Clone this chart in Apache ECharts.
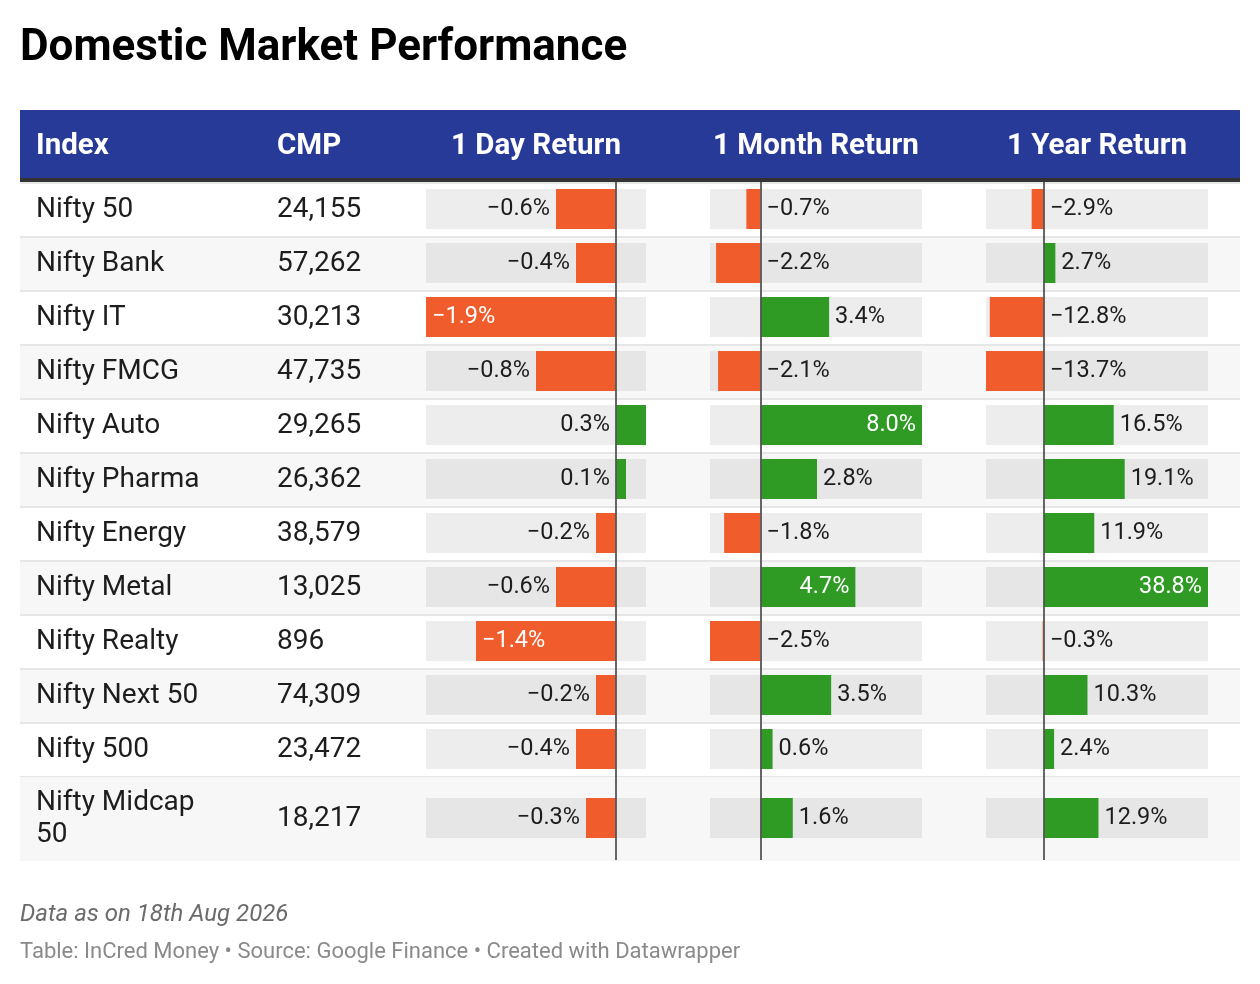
<!DOCTYPE html>
<html>
<head>
<meta charset="utf-8">
<script src="https://cdn.jsdelivr.net/npm/echarts@6/dist/echarts.min.js"></script>
<style>
html, body { margin: 0; padding: 0; background: #fff; }
#chart { width: 1260px; height: 984px; }
</style>
</head>
<body>
<div id="chart"></div>
<script>
var indexNames = ['Nifty 50', 'Nifty Bank', 'Nifty IT', 'Nifty FMCG', 'Nifty Auto', 'Nifty Pharma',
    'Nifty Energy', 'Nifty Metal', 'Nifty Realty', 'Nifty Next 50', 'Nifty 500', 'Nifty Midcap 50'];
var cmpValues = ['24,155', '57,262', '30,213', '47,735', '29,265', '26,362',
    '38,579', '13,025', '896', '74,309', '23,472', '18,217'];
var dayReturn = [-0.6, -0.4, -1.9, -0.8, 0.3, 0.1, -0.2, -0.6, -1.4, -0.2, -0.4, -0.3];
var monthReturn = [-0.7, -2.2, 3.4, -2.1, 8.0, 2.8, -1.8, 4.7, -2.5, 3.5, 0.6, 1.6];
var yearReturn = [-2.9, 2.7, -12.8, -13.7, 16.5, 19.1, 11.9, 38.8, -0.3, 10.3, 2.4, 12.9];
var columnTitles = ['Index', 'CMP', '1 Day Return', '1 Month Return', '1 Year Return'];

var FONT = 'Roboto, "Noto Sans", sans-serif';
var ORANGE = '#f15c2d';
var GREEN = '#2f9a24';
var TEXT = '#1d1d1d';

var chart = echarts.init(document.getElementById('chart'));

var barColumns = [
    {values: dayReturn, left: 426, width: 220},
    {values: monthReturn, left: 710, width: 212},
    {values: yearReturn, left: 986, width: 222}
];

// the last row is taller (its name wraps), so rows are split in two blocks
var blocks = [
    {start: 0, end: 11, top: 182, rowHeight: 54},
    {start: 11, end: 12, top: 776, rowHeight: 84}
];

function fmt(v) {
    return (v < 0 ? '\u2212' : '') + Math.abs(v).toFixed(1) + '%';
}

function barLabel(v, col, min, max) {
    var scale = col.width / (max - min);
    var leftSide = Math.abs(min) > max;
    var pos = leftSide ? 'left' : 'right';
    var inside = false;
    if (leftSide && v < 0 && (v - min) * scale < 72) {
        pos = 'insideLeft';
        inside = true;
    }
    if (!leftSide && v > 0 && (max - v) * scale < 72) {
        pos = 'insideRight';
        inside = true;
    }
    return {
        show: true,
        position: pos,
        distance: 6,
        color: inside ? '#fff' : TEXT,
        fontSize: 23.5,
        fontFamily: FONT,
        formatter: fmt(v)
    };
}

var grids = [], xAxes = [], yAxes = [], series = [];

function addGrid(left, width, top, height) {
    grids.push({left: left, width: width, top: top, height: height});
    return grids.length - 1;
}

blocks.forEach(function (b, bi) {
    var n = b.end - b.start;
    var h = n * b.rowHeight;
    var rows = [];
    for (var i = b.start; i < b.end; i++) rows.push(i);

    // row bands + index names
    var g = addGrid(20, 1220, b.top + 1, h);
    xAxes.push({gridIndex: g, type: 'value', min: 0, max: 1, show: false});
    yAxes.push({
        gridIndex: g, type: 'category', inverse: true,
        data: indexNames.slice(b.start, b.end),
        axisLine: {show: false}, axisTick: {show: false},
        axisLabel: {
            inside: true, margin: 16, color: TEXT, fontSize: 28, fontFamily: FONT,
            width: 185, overflow: 'break', lineHeight: 32
        },
        splitArea: {show: true, areaStyle: {color: b.start % 2 === 0 ? ['#ffffff', '#f7f7f7'] : ['#f7f7f7', '#ffffff']}},
        splitLine: {show: bi === 0, lineStyle: {color: '#e6e6e6', width: 2}}
    });

    // CMP column
    g = addGrid(261, 140, b.top + 1, h);
    xAxes.push({gridIndex: g, type: 'value', min: 0, max: 1, show: false});
    yAxes.push({
        gridIndex: g, type: 'category', inverse: true,
        data: cmpValues.slice(b.start, b.end),
        axisLine: {show: false}, axisTick: {show: false}, splitLine: {show: false},
        axisLabel: {inside: true, margin: 16, color: TEXT, fontSize: 28, fontFamily: FONT}
    });

    // return columns
    barColumns.forEach(function (col) {
        var min = Math.min.apply(null, col.values);
        var max = Math.max.apply(null, col.values);
        var gi = addGrid(col.left, col.width, b.top, h);
        xAxes.push({gridIndex: gi, type: 'value', min: min, max: max, show: false});
        yAxes.push({gridIndex: gi, type: 'category', inverse: true, show: false,
            data: indexNames.slice(b.start, b.end)});
        var axisIdx = xAxes.length - 1;

        function bgData(val) {
            return rows.map(function (i) {
                return {value: val, itemStyle: {color: i % 2 === 0 ? '#ededed' : '#e6e6e6'}};
            });
        }
        [max, min].forEach(function (edge) {
            series.push({
                type: 'bar', xAxisIndex: axisIdx, yAxisIndex: axisIdx,
                barWidth: 40, barGap: '-100%', silent: true, z: 1,
                data: bgData(edge)
            });
        });
        series.push({
            type: 'bar', xAxisIndex: axisIdx, yAxisIndex: axisIdx,
            barWidth: 40, barGap: '-100%', z: 2,
            data: rows.map(function (i) {
                var v = col.values[i];
                return {
                    value: v,
                    itemStyle: {color: v < 0 ? ORANGE : GREEN},
                    label: barLabel(v, col, min, max)
                };
            }),
            markLine: {
                silent: true, symbol: 'none', label: {show: false},
                lineStyle: {color: '#555', width: 2, type: 'solid', opacity: 0.9},
                data: [{xAxis: 0}]
            }
        });
    });
});

var headerTexts = [
    {text: columnTitles[0], x: 36, align: 'left'},
    {text: columnTitles[1], x: 277, align: 'left'}
];
barColumns.forEach(function (col, i) {
    headerTexts.push({text: columnTitles[i + 2], x: col.left + col.width / 2, align: 'center'});
});

var graphics = [
    {type: 'text', left: 20, top: 27, style: {text: 'Domestic Market Performance', fill: '#000',
        font: 'bold 44px ' + FONT}},
    {type: 'rect', shape: {x: 20, y: 110, width: 1220, height: 68}, style: {fill: '#283a97'}, z: 100},
    {type: 'rect', shape: {x: 20, y: 178, width: 1220, height: 4}, style: {fill: '#333333'}, z: 100},
    {type: 'text', x: 20, y: 915, style: {text: 'Data as on 18th Aug 2026', fill: '#6b6b6b',
        font: 'italic 24px ' + FONT, textVerticalAlign: 'middle'}},
    {type: 'text', x: 20, y: 952, style: {text: 'Table: InCred Money \u2022 Source: Google Finance \u2022 Created with Datawrapper',
        fill: '#8a8a8a', font: '22px ' + FONT, textVerticalAlign: 'middle'}}
];
headerTexts.forEach(function (h) {
    graphics.push({type: 'text', x: h.x, y: 147, z: 101, style: {text: h.text, fill: '#fff',
        font: 'bold 29.5px ' + FONT, textAlign: h.align, textVerticalAlign: 'middle'}});
});

chart.setOption({
    animation: false,
    grid: grids,
    xAxis: xAxes,
    yAxis: yAxes,
    series: series,
    graphic: graphics
});
</script>
</body>
</html>
